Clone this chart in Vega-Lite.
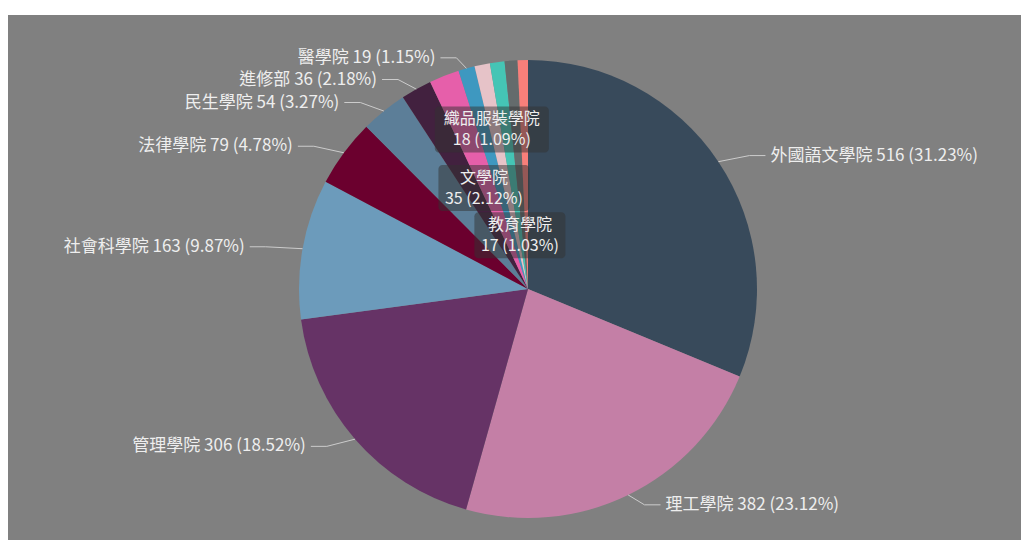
{
  "$schema": "https://vega.github.io/schema/vega-lite/v6.json",
  "width": 1013,
  "height": 525,
  "padding": {"left": 8, "top": 15, "right": 0, "bottom": 0},
  "autosize": {"type": "none"},
  "background": "#ffffff",
  "config": {"view": {"fill": "#808080", "stroke": null}, "text": {"font": "Noto Sans CJK TC"}},
  "data": {
    "values": [
      {"name": "外國語文學院", "value": 516},
      {"name": "理工學院", "value": 382},
      {"name": "管理學院", "value": 306},
      {"name": "社會科學院", "value": 163},
      {"name": "法律學院", "value": 79},
      {"name": "民生學院", "value": 54},
      {"name": "進修部", "value": 36},
      {"name": "文學院", "value": 35},
      {"name": "醫學院", "value": 19},
      {"name": "織品服裝學院", "value": 18},
      {"name": "教育學院", "value": 17},
      {"name": "藝術學院", "value": 15},
      {"name": "傳播學院", "value": 12}
    ]
  },
  "transform": [
    {"window": [{"op": "sum", "field": "value", "as": "cum"}], "sort": [{"field": "value", "order": "descending"}]},
    {"joinaggregate": [{"op": "sum", "field": "value", "as": "total"}]},
    {"calculate": "(datum.cum - datum.value / 2) / datum.total * 2 * PI", "as": "mid"},
    {"calculate": "format(datum.value / datum.total * 100, '.2f') + '%'", "as": "pct"},
    {"calculate": "datum.name + ' ' + datum.value + ' (' + datum.pct + ')'", "as": "label"},
    {"calculate": "datum.value + ' (' + datum.pct + ')'", "as": "valtext"},
    {"calculate": "indexof(['織品服裝學院', '文學院', '教育學院'], datum.name) >= 0 ? 'in' : (indexof(['藝術學院', '傳播學院'], datum.name) >= 0 ? 'none' : 'out')", "as": "kind"},
    {"calculate": "sin(datum.mid) >= 0 ? 1 : -1", "as": "side"},
    {"calculate": "229 * sin(datum.mid)", "as": "x0"},
    {"calculate": "229 * cos(datum.mid)", "as": "y0"},
    {"calculate": "1.11 * 240 * sin(datum.mid)", "as": "x1"},
    {"calculate": "240 * cos(datum.mid)", "as": "y1"},
    {"calculate": "datum.x1 + datum.side * 16", "as": "x2"},
    {"calculate": "datum.x2 + datum.side * 5", "as": "tx"},
    {"calculate": "datum.name === '織品服裝學院' ? 0.75 : (datum.name === '文學院' ? 0.5 : 0.25)", "as": "rf"},
    {"calculate": "1.11 * 217 * datum.rf * sin(datum.mid)", "as": "ix"},
    {"calculate": "217 * datum.rf * cos(datum.mid)", "as": "iy"},
    {"calculate": "datum.name === '織品服裝學院' ? 114 : 91", "as": "bw"},
    {"calculate": "datum.ix - datum.bw / 2", "as": "bx1"},
    {"calculate": "datum.ix + datum.bw / 2", "as": "bx2"},
    {"calculate": "datum.iy - 23", "as": "by1"},
    {"calculate": "datum.iy + 23", "as": "by2"}
  ],
  "layer": [
    {
      "mark": {"type": "arc", "outerRadius": 229, "x": {"expr": "scale('x', 0)"}, "y": {"expr": "scale('y', 0)"}},
      "encoding": {
        "theta": {"field": "value", "type": "quantitative", "stack": true},
        "order": {"field": "value", "type": "quantitative", "sort": "descending"},
        "color": {
          "field": "name",
          "type": "nominal",
          "legend": null,
          "scale": {
            "domain": ["外國語文學院", "理工學院", "管理學院", "社會科學院", "法律學院", "民生學院", "進修部", "文學院", "醫學院", "織品服裝學院", "教育學院", "藝術學院", "傳播學院"],
            "range": ["#384a5b", "#c47fa6", "#663366", "#6c9bbb", "#6b002e", "#5c7e98", "#42213f", "#e65faa", "#3e98c0", "#e6c3c8", "#45c5b5", "#646b6c", "#f87f7a"]
          }
        }
      }
    },
    {
      "transform": [{"filter": "datum.kind === 'out'"}],
      "mark": {"type": "rule", "color": "#cccccc", "strokeWidth": 1},
      "encoding": {
        "x": {"field": "x0", "type": "quantitative", "scale": {"domain": [-520, 493], "nice": false, "zero": false}, "axis": null},
        "y": {"field": "y0", "type": "quantitative", "scale": {"domain": [-251, 274], "nice": false, "zero": false}, "axis": null},
        "x2": {"field": "x1"},
        "y2": {"field": "y1"}
      }
    },
    {
      "transform": [{"filter": "datum.kind === 'out'"}],
      "mark": {"type": "rule", "color": "#cccccc", "strokeWidth": 1},
      "encoding": {
        "x": {"field": "x1", "type": "quantitative", "axis": null},
        "y": {"field": "y1", "type": "quantitative", "axis": null},
        "x2": {"field": "x2"}
      }
    },
    {
      "transform": [{"filter": "datum.kind === 'out' && datum.side > 0"}],
      "mark": {"type": "text", "align": "left", "baseline": "middle", "fontSize": 17, "color": "#eeeeee"},
      "encoding": {
        "x": {"field": "tx", "type": "quantitative", "axis": null},
        "y": {"field": "y1", "type": "quantitative", "axis": null},
        "text": {"field": "label"}
      }
    },
    {
      "transform": [{"filter": "datum.kind === 'out' && datum.side < 0"}],
      "mark": {"type": "text", "align": "right", "baseline": "middle", "fontSize": 17, "color": "#eeeeee"},
      "encoding": {
        "x": {"field": "tx", "type": "quantitative", "axis": null},
        "y": {"field": "y1", "type": "quantitative", "axis": null},
        "text": {"field": "label"}
      }
    },
    {
      "transform": [{"filter": "datum.kind === 'in'"}],
      "mark": {"type": "rect", "color": "#323232", "opacity": 0.5, "cornerRadius": 4},
      "encoding": {
        "x": {"field": "bx1", "type": "quantitative", "axis": null},
        "x2": {"field": "bx2"},
        "y": {"field": "by1", "type": "quantitative", "axis": null},
        "y2": {"field": "by2"}
      }
    },
    {
      "transform": [{"filter": "datum.kind === 'in'"}],
      "mark": {"type": "text", "align": "center", "baseline": "middle", "fontSize": 16, "color": "#eeeeee", "dy": -10.5},
      "encoding": {
        "x": {"field": "ix", "type": "quantitative", "axis": null},
        "y": {"field": "iy", "type": "quantitative", "axis": null},
        "text": {"field": "name"}
      }
    },
    {
      "transform": [{"filter": "datum.kind === 'in'"}],
      "mark": {"type": "text", "align": "center", "baseline": "middle", "fontSize": 16, "color": "#eeeeee", "dy": 10.5},
      "encoding": {
        "x": {"field": "ix", "type": "quantitative", "axis": null},
        "y": {"field": "iy", "type": "quantitative", "axis": null},
        "text": {"field": "valtext"}
      }
    }
  ]
}
